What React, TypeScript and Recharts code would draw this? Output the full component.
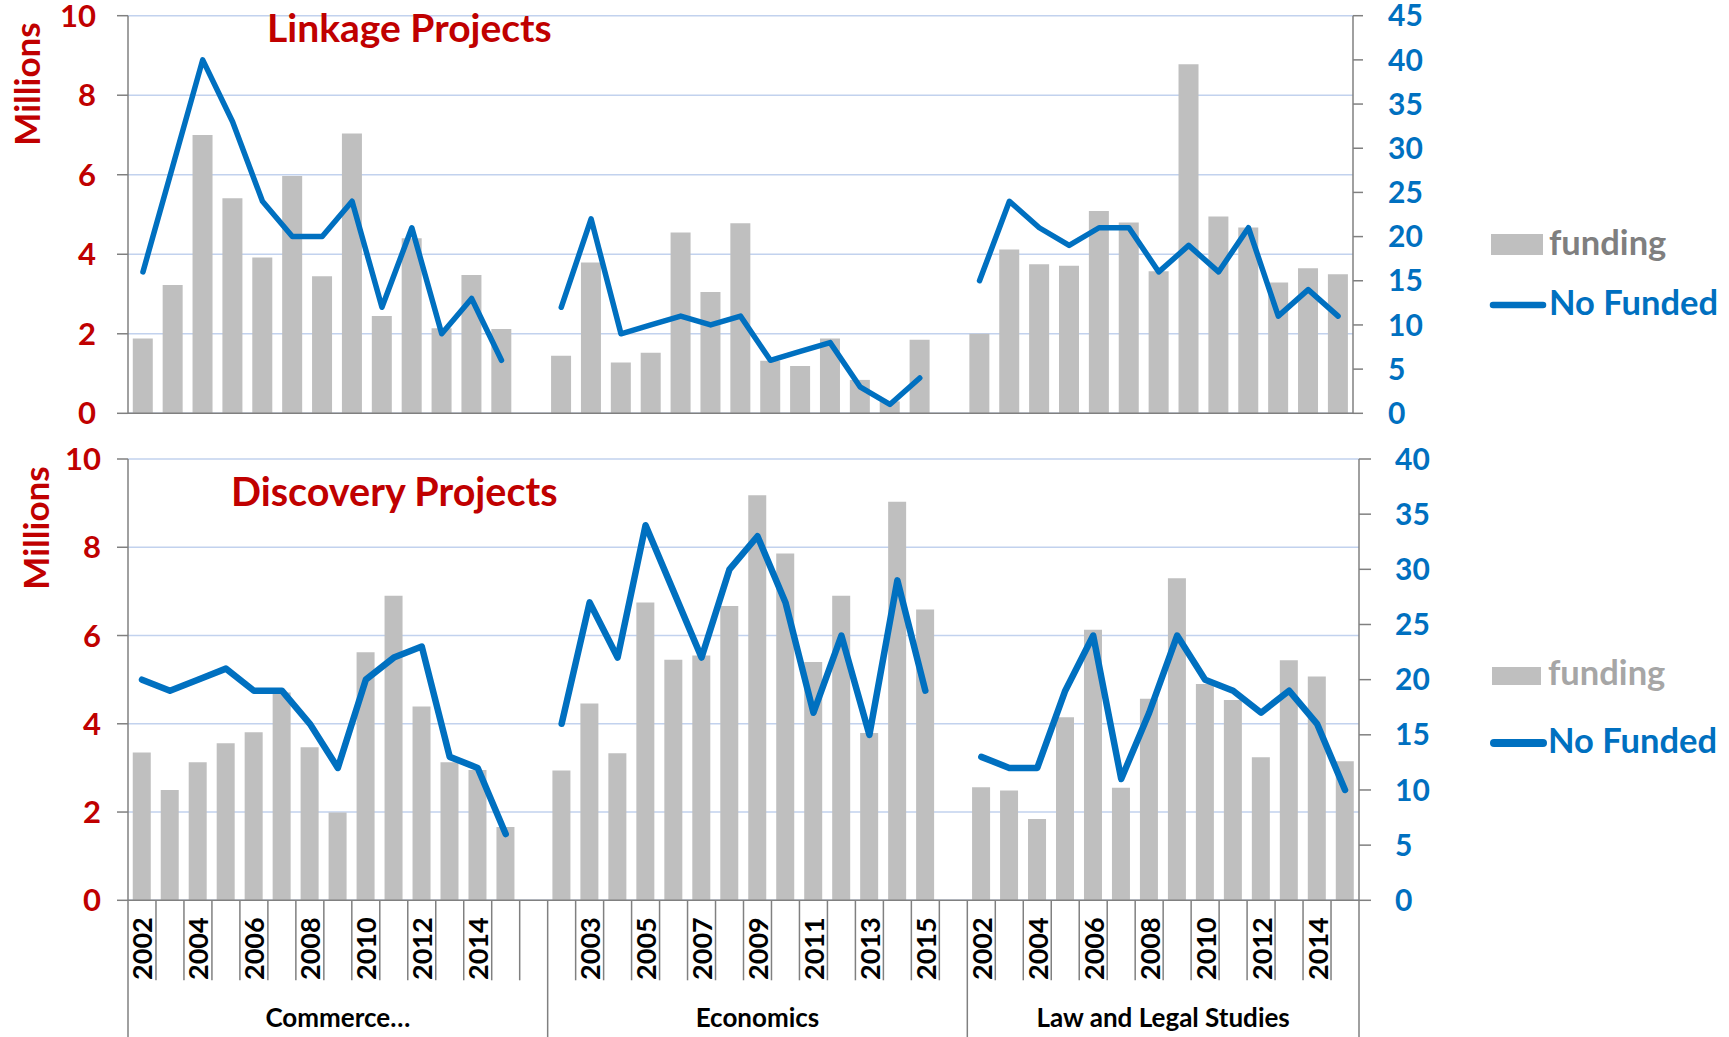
import React from 'react';
import { ComposedChart, Bar, Line, XAxis, YAxis, CartesianGrid } from 'recharts';

const groups = ['Commerce…', 'Economics', 'Law and Legal Studies'];
const linkageYears = ['2002', '2003', '2004', '2005', '2006', '2007', '2008', '2009', '2010', '2011', '2012', '2013', '2014'];
const discoveryYears = ['2002', '2003', '2004', '2005', '2006', '2007', '2008', '2009', '2010', '2011', '2012', '2013', '2014', '2015'];

// Linkage Projects: funding (millions) and number funded
const linkageCommerceFunding = [1.88, 3.23, 7.0, 5.41, 3.92, 5.97, 3.45, 7.04, 2.45, 4.4, 2.14, 3.48, 2.12];
const linkageCommerceFunded = [16, 28, 40, 33, 24, 20, 20, 24, 12, 21, 9, 13, 6];
const linkageEconomicsFunding = [1.45, 3.79, 1.28, 1.52, 4.55, 3.05, 4.78, 1.32, 1.19, 1.88, 0.84, 0.3, 1.85];
const linkageEconomicsFunded = [12, 22, 9, 10, 11, 10, 11, 6, 7, 8, 3, 1, 4];
const linkageLawFunding = [2.0, 4.12, 3.75, 3.71, 5.09, 4.8, 3.57, 8.78, 4.95, 4.67, 3.29, 3.65, 3.5];
const linkageLawFunded = [15, 24, 21, 19, 21, 21, 16, 19, 16, 21, 11, 14, 11];

// Discovery Projects
const discoveryCommerceFunding = [3.35, 2.5, 3.13, 3.56, 3.81, 4.71, 3.47, 1.99, 5.62, 6.9, 4.39, 3.13, 2.95, 1.66];
const discoveryCommerceFunded = [20, 19, 20, 21, 19, 19, 16, 12, 20, 22, 23, 13, 12, 6];
const discoveryEconomicsFunding = [2.94, 4.46, 3.33, 6.75, 5.45, 5.55, 6.67, 9.18, 7.86, 5.4, 6.9, 3.79, 9.03, 6.59];
const discoveryEconomicsFunded = [16, 27, 22, 34, 28, 22, 30, 33, 27, 17, 24, 15, 29, 19];
const discoveryLawFunding = [2.56, 2.49, 1.84, 4.15, 6.13, 2.55, 4.57, 7.3, 4.9, 4.54, 3.24, 5.44, 5.07, 3.15];
const discoveryLawFunded = [13, 12, 12, 19, 24, 11, 17, 24, 20, 19, 17, 19, 16, 10];

const leftTicks = [0, 2, 4, 6, 8, 10];
const linkageRightTicks = [0, 5, 10, 15, 20, 25, 30, 35, 40, 45];
const discoveryRightTicks = [0, 5, 10, 15, 20, 25, 30, 35, 40];

type Row = { key: string; year: string; group: string; blank: boolean; funding: number | null; funded: number | null };

// one category per year, with an empty category after every group but the last
function buildRows(years: string[], series: [number[], number[]][]): Row[] {
  const rows: Row[] = [];
  series.forEach(([funding, funded], g) => {
    years.forEach((year, i) => {
      rows.push({ key: `${g}-${year}`, year, group: groups[g], blank: false, funding: funding[i], funded: funded[i] });
    });
    if (g < series.length - 1) {
      rows.push({ key: `${g}-gap`, year: '', group: groups[g], blank: true, funding: null, funded: null });
    }
  });
  return rows;
}

const linkageRows = buildRows(linkageYears, [
  [linkageCommerceFunding, linkageCommerceFunded],
  [linkageEconomicsFunding, linkageEconomicsFunded],
  [linkageLawFunding, linkageLawFunded],
]);

const discoveryRows = buildRows(discoveryYears, [
  [discoveryCommerceFunding, discoveryCommerceFunded],
  [discoveryEconomicsFunding, discoveryEconomicsFunded],
  [discoveryLawFunding, discoveryLawFunded],
]);

const FONT = 'Lato, "Open Sans", sans-serif';
const RED = '#C00000';
const BLUE = '#0070C0';
const GREY = '#BFBFBF';
const AXIS = '#808080';
const GRID = '#C2D2EE';

const BOTTOM_PLOT_LEFT = 128;
const BOTTOM_PLOT_RIGHT = 1359;
const CAT_W = (BOTTOM_PLOT_RIGHT - BOTTOM_PLOT_LEFT) / discoveryRows.length;

function CategoryTick(props: any) {
  const { x, y, index } = props;
  const row = discoveryRows[index];
  if (!row) return null;
  const half = CAT_W / 2;
  const last = index === discoveryRows.length - 1;
  const groupEnd = row.blank || last;
  const groupStart = index === 0 || discoveryRows[index - 1].group !== row.group;
  const span = discoveryRows.filter((r) => r.group === row.group).length;
  return (
    <g>
      {index === 0 && <line x1={x - half} x2={x - half} y1={y} y2={y + 137} stroke={AXIS} strokeWidth={1.5} />}
      <line x1={x + half} x2={x + half} y1={y} y2={groupEnd ? y + 137 : y + 80} stroke={AXIS} strokeWidth={1.5} />
      {index % 2 === 0 && !row.blank && (
        <text
          x={x}
          y={y + 17}
          transform={`rotate(-90 ${x} ${y + 17})`}
          textAnchor="end"
          dominantBaseline="central"
          fontSize={27}
          fontWeight={700}
          fontFamily={FONT}
          fill="#000"
        >
          {row.year}
        </text>
      )}
      {groupStart && (
        <text
          x={x - half + (span * CAT_W) / 2}
          y={y + 117}
          textAnchor="middle"
          dominantBaseline="central"
          fontSize={26}
          fontWeight={700}
          fontFamily={FONT}
          fill="#000"
        >
          {row.group}
        </text>
      )}
    </g>
  );
}

const leftTick = { fill: RED, fontSize: 31, fontWeight: 700, fontFamily: FONT };
const rightTick = { fill: BLUE, fontSize: 30, fontWeight: 700, fontFamily: FONT };

export default function App() {
  return (
    <div style={{ position: 'absolute', left: 0, top: 0, width: 1729, height: 1037, background: '#fff', overflow: 'hidden' }}>
      <div style={{ position: 'absolute', left: 0, top: 0 }}>
        <ComposedChart
          width={1729}
          height={440}
          data={linkageRows}
          margin={{ top: 15.7, right: 256, left: 0, bottom: 0 }}
          barCategoryGap="16%"
          style={{ fontFamily: FONT }}
        >
          <CartesianGrid yAxisId="left" vertical={false} stroke={GRID} strokeWidth={1.5} />
          <XAxis dataKey="key" tick={false} tickLine={false} height={26.7} axisLine={{ stroke: AXIS, strokeWidth: 1.5 }} />
          <YAxis
            yAxisId="left"
            width={128}
            domain={[0, 10]}
            ticks={leftTicks}
            interval={0}
            tick={leftTick}
            tickSize={11}
            tickMargin={21}
            axisLine={{ stroke: AXIS, strokeWidth: 1.5 }}
            tickLine={{ stroke: AXIS, strokeWidth: 1.5 }}
          />
          <YAxis
            yAxisId="right"
            orientation="right"
            width={120}
            domain={[0, 45]}
            ticks={linkageRightTicks}
            interval={0}
            tick={{ ...rightTick, textAnchor: 'start' }}
            tickSize={10}
            tickMargin={25}
            axisLine={{ stroke: AXIS, strokeWidth: 1.5 }}
            tickLine={{ stroke: AXIS, strokeWidth: 1.5 }}
          />
          <Bar yAxisId="left" dataKey="funding" fill={GREY} isAnimationActive={false} />
          <Line
            yAxisId="right"
            type="linear"
            dataKey="funded"
            stroke={BLUE}
            strokeWidth={5.5}
            strokeLinecap="round"
            strokeLinejoin="round"
            dot={false}
            activeDot={false}
            connectNulls={false}
            isAnimationActive={false}
          />
        </ComposedChart>
      </div>
      <div style={{ position: 'absolute', left: 0, top: 440 }}>
        <ComposedChart
          width={1729}
          height={597}
          data={discoveryRows}
          margin={{ top: 19, right: 250, left: 0, bottom: 0 }}
          barCategoryGap="17%"
          style={{ fontFamily: FONT }}
        >
          <CartesianGrid yAxisId="left" vertical={false} stroke={GRID} strokeWidth={1.5} />
          <XAxis
            dataKey="key"
            interval={0}
            height={136.7}
            tickLine={false}
            tickSize={0}
            tickMargin={0}
            tick={(p: any) => <CategoryTick {...p} />}
            axisLine={{ stroke: AXIS, strokeWidth: 1.5 }}
          />
          <YAxis
            yAxisId="left"
            width={128}
            domain={[0, 10]}
            ticks={leftTicks}
            interval={0}
            tick={leftTick}
            tickSize={11}
            tickMargin={16}
            axisLine={{ stroke: AXIS, strokeWidth: 1.5 }}
            tickLine={{ stroke: AXIS, strokeWidth: 1.5 }}
          />
          <YAxis
            yAxisId="right"
            orientation="right"
            width={120}
            domain={[0, 40]}
            ticks={discoveryRightTicks}
            interval={0}
            tick={{ ...rightTick, textAnchor: 'start' }}
            tickSize={12}
            tickMargin={24}
            axisLine={{ stroke: AXIS, strokeWidth: 1.5 }}
            tickLine={{ stroke: AXIS, strokeWidth: 1.5 }}
          />
          <Bar yAxisId="left" dataKey="funding" fill={GREY} isAnimationActive={false} />
          <Line
            yAxisId="right"
            type="linear"
            dataKey="funded"
            stroke={BLUE}
            strokeWidth={6.5}
            strokeLinecap="round"
            strokeLinejoin="round"
            dot={false}
            activeDot={false}
            connectNulls={false}
            isAnimationActive={false}
          />
        </ComposedChart>
      </div>
      <svg
        width={1729}
        height={1037}
        style={{ position: 'absolute', left: 0, top: 0, pointerEvents: 'none' }}
        fontFamily={FONT}
        fontWeight={700}
      >
        <text x={267} y={41.7} fontSize={39} fill={RED}>Linkage Projects</text>
        <text x={231} y={505.7} fontSize={39.5} fill={RED}>Discovery Projects</text>
        <text x={26} y={84} fontSize={35} fill={RED} textAnchor="middle" dominantBaseline="central" transform="rotate(-90 26 84)">
          Millions
        </text>
        <text x={35} y={528} fontSize={35} fill={RED} textAnchor="middle" dominantBaseline="central" transform="rotate(-90 35 528)">
          Millions
        </text>

        <rect x={1491} y={234} width={52} height={21} fill={GREY} />
        <text x={1549} y={255} fontSize={34.5} fill="#7F7F7F">funding</text>
        <line x1={1493} x2={1543} y1={305} y2={305} stroke={BLUE} strokeWidth={6.5} strokeLinecap="round" />
        <text x={1549} y={315} fontSize={34.5} fill={BLUE}>No Funded</text>

        <rect x={1492} y={667} width={49} height={18} fill={GREY} />
        <text x={1548} y={685} fontSize={34.5} fill="#A6A6A6">funding</text>
        <line x1={1494} x2={1543} y1={743} y2={743} stroke={BLUE} strokeWidth={8} strokeLinecap="round" />
        <text x={1548} y={753} fontSize={34.5} fill={BLUE}>No Funded</text>
      </svg>
    </div>
  );
}
